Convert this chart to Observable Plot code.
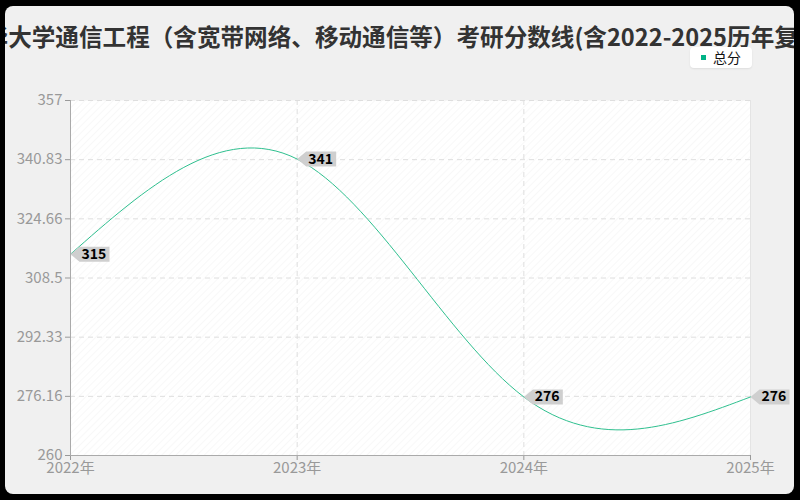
<!DOCTYPE html>
<html>
<head>
<meta charset="utf-8">
<script src="https://cdn.jsdelivr.net/npm/d3@7"></script>
<script src="https://cdn.jsdelivr.net/npm/@observablehq/plot@0.6"></script>
<style>
  html, body { margin: 0; padding: 0; background: #000; width: 800px; height: 500px; overflow: hidden; }
  #panel { position: absolute; left: 5px; top: 6px; width: 789px; height: 488px; background: #f0f0f0; border-radius: 8px; overflow: hidden; }
  #title { position: absolute; top: 13px; left: -44px; white-space: nowrap; font: bold 23.6px "Noto Sans CJK SC", sans-serif; color: #333; }
  #legend { position: absolute; left: 685px; top: 41px; width: 62px; height: 21px; background: #fff; border-radius: 4px; box-shadow: 0 1px 2px rgba(0,0,0,0.08); font: 14px "Noto Sans CJK SC", sans-serif; color: #111; }
  #legend .sw { position: absolute; left: 11px; top: 8px; width: 5px; height: 5px; background: #00b386; }
  #legend .tx { position: absolute; left: 23px; top: 0px; line-height: 21px; }
  #chart { position: absolute; left: 0; top: 0; }
</style>
</head>
<body>
<div id="panel">
  <div id="title">清华大学通信工程（含宽带网络、移动通信等）考研分数线(含2022-2025历年复试)</div>
  <div id="legend"><div class="sw"></div><div class="tx">总分</div></div>
</div>
<div id="chart"></div>
<script>
const years = [2022, 2023, 2024, 2025];
const scores = [315, 341, 276, 276];
const yTicks = [260, 276.16, 292.33, 308.5, 324.66, 340.83, 357];
const yTickLabels = ["260", "276.16", "292.33", "308.5", "324.66", "340.83", "357"];
const xTickLabels = ["2022年", "2023年", "2024年", "2025年"];

const data = years.map((y, i) => ({year: y, score: scores[i]}));

const tagSymbol = {
  draw(ctx) {
    ctx.moveTo(0, 0);
    ctx.lineTo(9, -7.5);
    ctx.lineTo(39, -7.5);
    ctx.lineTo(39, 7.5);
    ctx.lineTo(9, 7.5);
    ctx.closePath();
  }
};

const chart = Plot.plot({
  width: 800,
  height: 500,
  marginLeft: 70,
  marginRight: 50,
  marginTop: 100,
  marginBottom: 45,
  style: {background: "transparent", fontFamily: "'Noto Sans CJK SC', sans-serif", fontSize: "15px"},
  x: {domain: [2022, 2025], axis: null},
  y: {domain: [260, 357], axis: null},
  marks: [
    Plot.frame({fill: "url(#hatch)", stroke: null}),
    Plot.gridY(yTicks.slice(1), {stroke: "#dedede", strokeOpacity: 1, strokeDasharray: "5,4"}),
    Plot.gridX(years.slice(1, 3), {stroke: "#dedede", strokeOpacity: 1, strokeDasharray: "5,4"}),
    Plot.ruleX([2025], {stroke: "#e4e4e4"}),
    Plot.line(data, {x: "year", y: "score", stroke: "#2fc08f", strokeWidth: 1, curve: "natural"}),
    Plot.dot(data, {x: "year", y: "score", symbol: tagSymbol, r: 5, fill: "#cfcfcf", stroke: null}),
    Plot.text(data, {x: "year", y: "score", text: d => String(d.score), dx: 11, textAnchor: "start", fill: "#000", fontWeight: "bold", fontSize: 14}),
    Plot.axisY({ticks: yTicks, tickFormat: (d, i) => yTickLabels[i], label: null, tickSize: 5, tickPadding: 3, stroke: "#999", fill: "#999", fontSize: 15}),
    Plot.axisX({ticks: years, tickFormat: (d, i) => xTickLabels[i], label: null, tickSize: 5, tickPadding: 2, stroke: "#999", fill: "#999", fontSize: 15}),
    Plot.ruleX([2022], {stroke: "#aaa"}),
    Plot.ruleY([260], {stroke: "#aaa"})
  ]
});

const svg = d3.select(chart);
const defs = svg.insert("defs", ":first-child");
const pat = defs.append("pattern").attr("id", "hatch").attr("patternUnits", "userSpaceOnUse")
  .attr("width", 5).attr("height", 5).attr("patternTransform", "rotate(45)");
pat.append("rect").attr("width", 5).attr("height", 5).attr("fill", "#ffffff");
pat.append("line").attr("x1", 0).attr("y1", 0).attr("x2", 0).attr("y2", 5).attr("stroke", "#f2f2f2").attr("stroke-width", 1);

document.getElementById("chart").appendChild(chart);
</script>
</body>
</html>
